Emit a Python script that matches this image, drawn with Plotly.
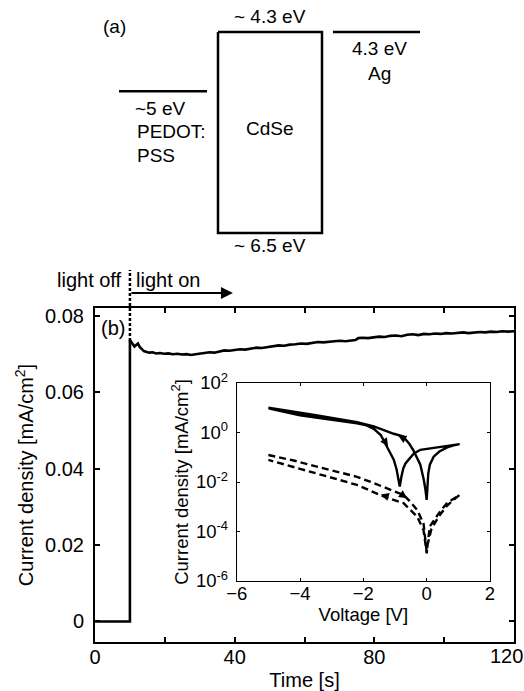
import math
import plotly.graph_objects as go

W, H = 524, 691

# ---------------- data ----------------
# (a) energy levels [eV]
pedot_level = -4.95
cdse_lumo = -4.3
cdse_homo = -6.5
ag_level = -4.3

# (b) transient photocurrent
time_s = [0, 2, 4, 6, 8, 10, 10, 10.4, 10.8, 11.3, 11.8, 12.3, 12.8, 13.4, 14.0, 14.8,
          15.6, 16.5, 17.5, 18.6, 19.8, 21.0, 22.3, 23.6, 24.9, 26.2, 27.5, 28.8, 30.1,
          31.4, 32.8, 34.2, 35.6, 37.0, 38.5, 40.0, 41.5, 43.0, 44.6, 46.2, 47.8, 49.4,
          51.0, 52.6, 54.2, 55.8, 57.4, 59.0, 60.6, 62.2, 63.8, 65.4, 67.0, 68.6, 70.2,
          71.8, 73.4, 74.6, 75.4, 76.6, 78.2, 79.8, 81.4, 83.0, 84.6, 86.2, 87.8, 89.4,
          91.0, 92.6, 94.2, 95.8, 97.4, 99.0, 100.6, 102.2, 103.8, 105.4, 107.0, 108.6,
          110.2, 111.8, 113.4, 115.0, 116.6, 118.2, 120]
current = [0, 0, 0, 0, 0, 0, 0.0736, 0.0731, 0.0724, 0.0719, 0.0723, 0.0727, 0.0718,
           0.0711, 0.0707, 0.0705, 0.0703, 0.0704, 0.0701, 0.0702, 0.0700, 0.0701, 0.0699,
           0.0700, 0.0698, 0.0699, 0.0697, 0.0699, 0.0700, 0.0702, 0.0704, 0.0703, 0.0707,
           0.0709, 0.0708, 0.0711, 0.0712, 0.0711, 0.0714, 0.0716, 0.0715, 0.0718, 0.0719,
           0.0722, 0.0721, 0.0724, 0.0725, 0.0727, 0.0726, 0.0729, 0.0731, 0.0730, 0.0732,
           0.0733, 0.0734, 0.0733, 0.0735, 0.0736, 0.0741, 0.0742, 0.0741, 0.0744, 0.0745,
           0.0744, 0.0747, 0.0748, 0.0746, 0.0750, 0.0751, 0.0749, 0.0752, 0.0751, 0.0753,
           0.0752, 0.0754, 0.0753, 0.0755, 0.0756, 0.0754, 0.0756, 0.0757, 0.0756, 0.0758,
           0.0757, 0.0759, 0.0758, 0.0759]
light_on_time = 10
arrow_end_time = 39.5
time_ticks_labeled = [0, 40, 80]
time_tick_last = 120

# inset: J-V under light (solid), forward then reverse sweep
v_light = [-5.0, -4.5, -4.0, -3.5, -3.0, -2.5, -2.2, -1.9, -1.67, -1.45, -1.3, -1.15,
           -1.04, -0.95, -0.9, -0.85, -0.8, -0.74, -0.67, -0.55, -0.41, -0.2, 0.12, 0.4,
           0.65, 0.85, 1.04,
           0.85, 0.65, 0.4, 0.22, 0.1, 0.05, 0.02, 0.0,
           -0.04, -0.09, -0.2, -0.3, -0.41, -0.55, -0.75, -1.04, -1.67, -2.2, -2.5, -3.0,
           -3.5, -4.0, -4.5, -5.0]
j_light = [9.5, 6.9, 5.0, 4.0, 3.3, 2.7, 2.35, 1.95, 1.41, 0.79, 0.35, 0.16,
           0.079, 0.032, 0.014, 0.0065, 0.016, 0.035, 0.056, 0.085, 0.14, 0.2, 0.23, 0.26,
           0.28, 0.31, 0.34,
           0.3, 0.25, 0.17, 0.105, 0.05, 0.022, 0.008, 0.0019,
           0.005, 0.012, 0.05, 0.1, 0.18, 0.35, 0.7, 0.89, 1.78, 2.63, 3.0, 3.98,
           5.0, 6.3, 7.9, 10.0]

# inset: J-V in dark (dashed), forward then reverse sweep
v_dark = [-5.0, -4.2, -3.47, -2.8, -2.2, -1.7, -1.25, -0.73, -0.5, -0.3, -0.1, -0.04,
          0.0, 0.03, 0.1, 0.38, 0.64, 0.85, 1.04,
          0.85, 0.64, 0.38, 0.15, 0.03, 0.0, -0.05, -0.1, -0.3, -0.73, -1.36, -2.2,
          -2.8, -3.47, -4.2, -5.0]
j_dark = [0.123, 0.074, 0.042, 0.026, 0.0162, 0.0093, 0.0055, 0.003, 0.0015, 0.00074,
          0.00021, 0.00005, 0.000015, 0.00003, 0.00016, 0.00054, 0.0014, 0.0021, 0.0030,
          0.0019, 0.0011, 0.0004, 0.000126, 0.00003, 0.000013, 0.00004, 0.000115,
          0.0004, 0.0014, 0.0026, 0.0076, 0.0126, 0.0224, 0.04, 0.078]

# arrows on the inset curves: (V_head, J_head, V_tail, J_tail)
arrows_inset = [(-1.22, 0.28, -1.4, 0.62),
                (-0.9, 0.75, -0.7, 0.55),
                (-0.62, 0.0022, -0.8, 0.0032),
                (-1.45, 0.0031, -1.25, 0.0026)]

FONT = "Liberation Sans, Arial, sans-serif"


def px_x(px):
    return px / W


def px_y(py):
    return 1 - py / H


fig = go.Figure()

# ---------------- (a) energy diagram ----------------
pedot_span = (119, 207)
cdse_span = (218, 322)
ag_span = (333, 420)
fig.add_trace(go.Scatter(x=list(pedot_span), y=[pedot_level, pedot_level], mode="lines",
                         line=dict(color="black", width=2.5), xaxis="x3", yaxis="y3",
                         showlegend=False, hoverinfo="skip"))
fig.add_trace(go.Scatter(x=[cdse_span[0], cdse_span[1], cdse_span[1], cdse_span[0], cdse_span[0]],
                         y=[cdse_lumo, cdse_lumo, cdse_homo, cdse_homo, cdse_lumo], mode="lines",
                         line=dict(color="black", width=2.5), xaxis="x3", yaxis="y3",
                         showlegend=False, hoverinfo="skip"))
fig.add_trace(go.Scatter(x=list(ag_span), y=[ag_level, ag_level], mode="lines",
                         line=dict(color="black", width=2.5), xaxis="x3", yaxis="y3",
                         showlegend=False, hoverinfo="skip"))

# ---------------- (b) main plot ----------------
fig.add_trace(go.Scatter(x=time_s, y=current, mode="lines",
                         line=dict(color="black", width=2.6), xaxis="x", yaxis="y",
                         showlegend=False, hoverinfo="skip"))

# inset
fig.add_trace(go.Scatter(x=v_light, y=j_light, mode="lines",
                         line=dict(color="black", width=2.4), xaxis="x2", yaxis="y2",
                         showlegend=False, hoverinfo="skip"))
fig.add_trace(go.Scatter(x=v_dark, y=j_dark, mode="lines",
                         line=dict(color="black", width=2.4, dash="7px,4px"), xaxis="x2", yaxis="y2",
                         showlegend=False, hoverinfo="skip"))

annotations = []
for vh, jh, vt, jt in arrows_inset:
    annotations.append(dict(x=vh, y=math.log10(jh), ax=vt, ay=math.log10(jt), xref="x2", yref="y2",
                            axref="x2", ayref="y2", text="", showarrow=True, arrowhead=2,
                            arrowsize=0.9, arrowwidth=1.8, arrowcolor="black"))


def label(text, px, py, size=19, xanchor="center"):
    annotations.append(dict(x=px_x(px), y=px_y(py), xref="paper", yref="paper", text=text,
                            showarrow=False, xanchor=xanchor, yanchor="middle",
                            font=dict(family=FONT, size=size, color="black")))


label("(a)", 114, 27)
label("~ 4.3 eV", 270, 17)
label("4.3 eV", 379, 48)
label("Ag", 379, 73)
label("~5 eV", 133, 108, xanchor="left")
label("PEDOT:", 135, 132, xanchor="left")
label("PSS", 135, 155, xanchor="left")
label("CdSe", 270, 128)
label("~ 6.5 eV", 270, 245)
label("light off", 124, 280, size=20, xanchor="right")
label("light on", 134, 280, size=20, xanchor="left")
label("(b)", 113, 328, size=20)
# last time tick label, kept inside the page like the reference
annotations.append(dict(x=time_tick_last, y=px_y(656), xref="x", yref="paper", text=str(time_tick_last),
                        showarrow=False, xanchor="center", yanchor="middle", xshift=-8,
                        font=dict(family=FONT, size=20, color="black")))

# light on arrow
annotations.append(dict(x=arrow_end_time, y=px_y(293), ax=light_on_time, ay=0, xref="x", yref="paper",
                        axref="x", ayref="pixel", text="", showarrow=True, arrowhead=2,
                        arrowsize=1.2, arrowwidth=2, arrowcolor="black"))

shapes = [dict(type="line", xref="x", yref="paper", x0=light_on_time, x1=light_on_time,
               y0=px_y(341), y1=px_y(270), line=dict(color="black", width=2.5, dash="3px,2px"))]

common = dict(showgrid=False, zeroline=False, automargin=False, ticklabeloverflow="allow",
              tickcolor="black", showline=True, linecolor="black", mirror="ticks", ticks="inside")

fig.update_layout(
    width=W, height=H, margin=dict(l=0, r=0, t=0, b=0, autoexpand=False),
    paper_bgcolor="white", plot_bgcolor="rgba(0,0,0,0)",
    font=dict(family=FONT, size=20, color="black"),
    annotations=annotations, shapes=shapes,
    xaxis=dict(domain=[px_x(95), px_x(514)], range=[0, 120],
               tickvals=time_ticks_labeled,
               ticklen=5, tickwidth=1.5, linewidth=2, ticklabelstandoff=-4,
               minor=dict(ticks="inside", ticklen=5, tickwidth=1.5, tickcolor="black",
                          tick0=0, dtick=20, showgrid=False),
               tickfont=dict(size=20),
               title=dict(text="Time [s]", font=dict(size=20), standoff=9), **common),
    yaxis=dict(domain=[px_y(641.7), px_y(308.3)], range=[-0.0053, 0.0819],
               tickvals=[0, 0.02, 0.04, 0.06, 0.08],
               ticktext=["0", "0.02", "0.04", "0.06", "0.08"],
               ticklen=5, tickwidth=1.5, linewidth=2, ticklabelstandoff=5,
               tickfont=dict(size=20),
               title=dict(text="Current density [mA/cm<sup>2</sup>]", font=dict(size=20), standoff=6),
               **common),
    xaxis2=dict(domain=[px_x(236.7), px_x(490)], range=[-6, 2], anchor="y2",
                tickvals=[-6, -4, -2, 0, 2],
                ticklen=3, tickwidth=1, linewidth=1, ticklabelstandoff=-4,
                tickfont=dict(size=18.5),
                title=dict(text="Voltage [V]", font=dict(size=18.5), standoff=0), **common),
    yaxis2=dict(domain=[px_y(581), px_y(383)], type="log", range=[-6, 2], anchor="x2",
                tickvals=[1e-6, 1e-4, 1e-2, 1, 1e2],
                ticktext=["10<sup>-6</sup>", "10<sup>-4</sup>", "10<sup>-2</sup>",
                          "10<sup>0</sup>", "10<sup>2</sup>"],
                ticklen=3, tickwidth=1, linewidth=1, ticklabelstandoff=4,
                tickfont=dict(size=18.5),
                title=dict(text="Current density [mA/cm<sup>2</sup>]", font=dict(size=18.5), standoff=2),
                **common),
    xaxis3=dict(domain=[0, 1], range=[0, W], anchor="y3", visible=False, automargin=False),
    yaxis3=dict(domain=[px_y(260), 1], range=[-6.7955, -3.950], anchor="x3", visible=False,
                automargin=False),
)

fig.write_html("out.html")
